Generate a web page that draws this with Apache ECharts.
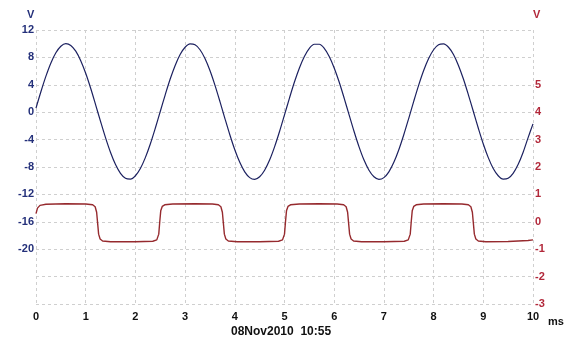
<!DOCTYPE html>
<html>
<head>
<meta charset="utf-8">
<script src="https://cdn.jsdelivr.net/npm/echarts@6/dist/echarts.min.js"></script>
<style>
  html, body { margin: 0; padding: 0; background: #fff; }
  #chart { width: 566px; height: 343px; }
</style>
</head>
<body>
<div id="chart"></div>
<script>
// Channel A: sine trace, sampled every 0.1 ms (volts, left axis)
const ch1Time = [0.0, 0.1, 0.2, 0.3, 0.4, 0.5, 0.6, 0.7, 0.8, 0.9,
                 1.0, 1.1, 1.2, 1.3, 1.4, 1.5, 1.6, 1.7, 1.8, 1.9,
                 2.0, 2.1, 2.2, 2.3, 2.4, 2.5, 2.6, 2.7, 2.8, 2.9,
                 3.0, 3.1, 3.2, 3.3, 3.4, 3.5, 3.6, 3.7, 3.8, 3.9,
                 4.0, 4.1, 4.2, 4.3, 4.4, 4.5, 4.6, 4.7, 4.8, 4.9,
                 5.0, 5.1, 5.2, 5.3, 5.4, 5.5, 5.6, 5.7, 5.8, 5.9,
                 6.0, 6.1, 6.2, 6.3, 6.4, 6.5, 6.6, 6.7, 6.8, 6.9,
                 7.0, 7.1, 7.2, 7.3, 7.4, 7.5, 7.6, 7.7, 7.8, 7.9,
                 8.0, 8.1, 8.2, 8.3, 8.4, 8.5, 8.6, 8.7, 8.8, 8.9,
                 9.0, 9.1, 9.2, 9.3, 9.4, 9.5, 9.6, 9.7, 9.8, 9.9, 10.0];
const ch1Volts = [0.6, 3.02, 5.26, 7.19, 8.67, 9.63, 10.0, 9.75, 8.91, 7.52,
                  5.68, 3.49, 1.08, -1.38, -3.75, -5.88, -7.64, -8.92, -9.65, -9.77,
                  -9.28, -8.22, -6.63, -4.64, -2.34, 0.1, 2.54, 4.84, 6.83, 8.42,
                  9.48, 9.97, 9.85, 9.12, 7.84, 6.08, 3.95, 1.58, -0.89, -3.29,
                  -5.48, -7.32, -8.71, -9.55, -9.8, -9.43, -8.47, -6.99, -5.06, -2.82,
                  -0.39, 2.06, 4.4, 6.46, 8.14, 9.32, 9.92, 9.92, 9.32, 8.14,
                  6.46, 4.4, 2.06, -0.39, -2.82, -5.06, -6.99, -8.47, -9.43, -9.8,
                  -9.55, -8.71, -7.32, -5.48, -3.29, -0.89, 1.58, 3.95, 6.08, 7.84,
                  9.12, 9.85, 9.97, 9.48, 8.42, 6.83, 4.84, 2.54, 0.1, -2.34,
                  -4.64, -6.63, -8.22, -9.28, -9.77, -9.65, -8.92, -7.64, -5.88, -3.75, -1.7];

// Channel B: square trace (volts, right axis)
const ch2Time = [0, 0.03, 0.08, 0.2, 0.6, 1.0,
  1.14, 1.19, 1.22, 1.24, 1.26, 1.29, 1.34, 1.5, 2.0, 2.35,
  2.43, 2.47, 2.49, 2.51, 2.54, 2.59, 2.75, 3.2, 3.55,
  3.67, 3.72, 3.75, 3.77, 3.79, 3.82, 3.87, 4.05, 4.5, 4.88,
  4.96, 5.0, 5.02, 5.04, 5.07, 5.12, 5.3, 5.7, 6.06,
  6.19, 6.24, 6.27, 6.29, 6.31, 6.34, 6.39, 6.55, 7.0, 7.41,
  7.49, 7.53, 7.55, 7.57, 7.6, 7.65, 7.8, 8.2, 8.57,
  8.7, 8.75, 8.78, 8.8, 8.82, 8.85, 8.9, 9.05, 9.5, 9.9, 10.0];
const ch2Volts = [0.3, 0.5, 0.6, 0.64, 0.66, 0.65,
  0.62, 0.55, 0.35, -0.05, -0.45, -0.63, -0.7, -0.73, -0.73, -0.71,
  -0.66, -0.45, 0.0, 0.4, 0.56, 0.62, 0.65, 0.66, 0.65,
  0.62, 0.55, 0.35, -0.05, -0.45, -0.63, -0.7, -0.73, -0.73, -0.71,
  -0.66, -0.45, 0.0, 0.4, 0.56, 0.62, 0.65, 0.66, 0.65,
  0.62, 0.55, 0.35, -0.05, -0.45, -0.63, -0.7, -0.73, -0.73, -0.71,
  -0.66, -0.45, 0.0, 0.4, 0.56, 0.62, 0.65, 0.66, 0.65,
  0.62, 0.55, 0.35, -0.05, -0.45, -0.63, -0.7, -0.73, -0.72, -0.68, -0.66];

// Axis tick labels that are printed
const leftTicks = [12, 8, 4, 0, -4, -8, -12, -16, -20];
const rightTicks = [5, 4, 3, 2, 1, 0, -1, -2, -3];
const timeTicks = [0, 1, 2, 3, 4, 5, 6, 7, 8, 9, 10];
const timeUnit = 'ms';
const voltUnit = 'V';
const stamp = '08Nov2010  10:55';

const zip = (xs, ys) => xs.map((x, i) => [x, ys[i]]);

const font = '"Liberation Sans", Arial, sans-serif';
const gridDash = { color: '#cfcfcf', type: [3, 3], width: 1 };

const chart = echarts.init(document.getElementById('chart'), null, { renderer: 'canvas' });
chart.setOption({
  animation: false,
  backgroundColor: '#fff',
  grid: { left: 36, right: 33, top: 30, bottom: 39 },
  xAxis: {
    type: 'value', min: 0, max: 10, interval: 1,
    axisLine: { show: false }, axisTick: { show: false },
    splitLine: { show: true, lineStyle: gridDash },
    axisLabel: {
      margin: 7, color: '#111', fontFamily: font, fontWeight: 'bold', fontSize: 11,
      formatter: v => timeTicks.includes(v) ? String(v) : ''
    }
  },
  yAxis: [
    {
      type: 'value', min: -28, max: 12, interval: 4, position: 'left',
      axisLine: { show: false }, axisTick: { show: false },
      splitLine: { show: true, lineStyle: gridDash },
      axisLabel: {
        margin: 2, color: '#24307a', fontFamily: font, fontWeight: 'bold', fontSize: 11,
        formatter: v => leftTicks.includes(v) ? String(v) : ''
      }
    },
    {
      type: 'value', min: -3, max: 7, interval: 1, position: 'right',
      axisLine: { show: false }, axisTick: { show: false },
      splitLine: { show: false },
      axisLabel: {
        margin: 2, color: '#b2283a', fontFamily: font, fontWeight: 'bold', fontSize: 11,
        formatter: v => rightTicks.includes(v) ? String(v) : ''
      }
    }
  ],
  series: [
    {
      type: 'line', yAxisIndex: 0, data: zip(ch1Time, ch1Volts),
      smooth: 0.3, showSymbol: false,
      lineStyle: { color: '#1c2160', width: 1.2 }
    },
    {
      type: 'line', yAxisIndex: 1, data: zip(ch2Time, ch2Volts),
      showSymbol: false,
      lineStyle: { color: '#962a2e', width: 1.4 }
    }
  ],
  graphic: [
    { type: 'text', left: 27, top: 9,
      style: { text: voltUnit, fill: '#24307a', font: 'bold 11px ' + font } },
    { type: 'text', left: 533, top: 9,
      style: { text: voltUnit, fill: '#b2283a', font: 'bold 11px ' + font } },
    { type: 'text', left: 548, top: 316,
      style: { text: timeUnit, fill: '#111', font: 'bold 11px ' + font } },
    { type: 'text', left: 231, top: 326,
      style: { text: stamp, fill: '#111', font: 'bold 12px ' + font } }
  ]
});
</script>
</body>
</html>
